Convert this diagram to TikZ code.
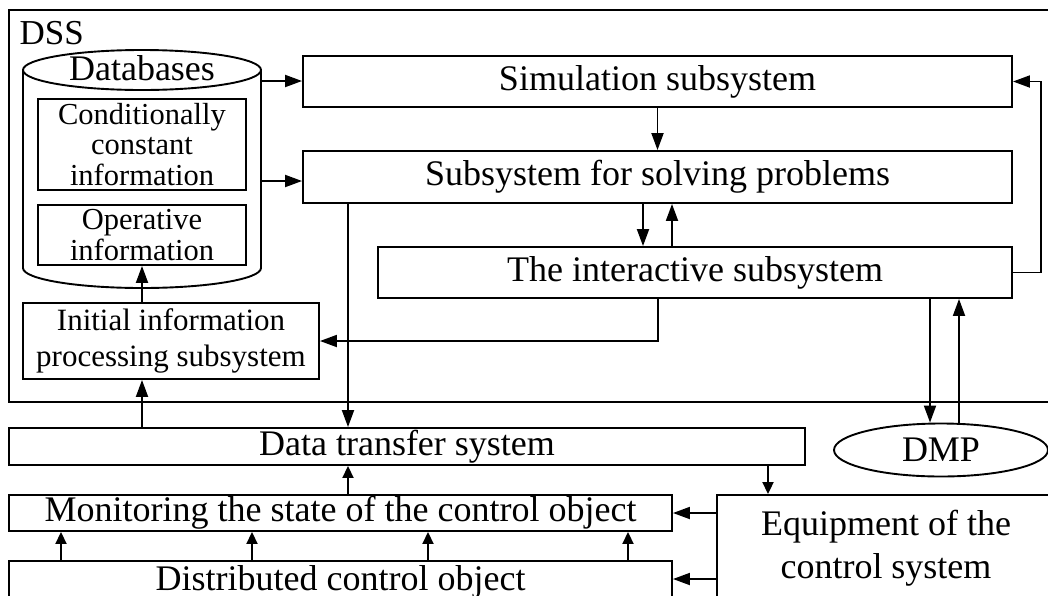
\documentclass[tikz,border=0pt]{standalone}
\usepackage{fontspec}
\setmainfont{Liberation Serif}
\usetikzlibrary{arrows.meta,shapes.geometric}
\tikzset{
  ln/.style={line width=1.9pt},
  blk/.style={draw, ln, inner sep=0pt, align=center, font=\fontsize{36}{43}\selectfont},
  small/.style={font=\fontsize{30.5}{30.5}\selectfont},
  arr/.style={ln, -{Triangle[length=17pt,width=12pt]}},
  sarr/.style={ln, -{Triangle[length=12pt,width=11pt]}},
}

\begin{document}
\begin{tikzpicture}[x=1pt,y=-1pt]
\useasboundingbox (0,0) rectangle (1048,595);
\clip (0,0) rectangle (1048,595);
\fill[white] (0,0) rectangle (1048,595);

% DSS frame
\draw[ln] (9,10) rectangle (1070,402);
\node[anchor=base west, font=\fontsize{35}{40}\selectfont] (dss) at (16,44) {DSS};

% databases cylinder
\draw[ln] (142,70) ellipse [x radius=119, y radius=20];
\draw[ln] (23,70) -- (23,268) arc[start angle=180, end angle=0, x radius=119, y radius=20] -- (261,70);
\node[font=\fontsize{36}{40}\selectfont] (db) at (142,68) {Databases};
\node[blk, small, minimum width=208pt, minimum height=91pt] (cond) at (142,144.5) {Conditionally\\constant\\information};
\node[blk, small, minimum width=208pt, minimum height=60pt] (oper) at (142,235) {Operative\\information};
\coordinate (dbA) at (261,81);
\coordinate (dbB) at (261,181);

% subsystems
\node[blk, minimum width=709pt, minimum height=51pt] (sim) at (657.5,81.5) {Simulation subsystem};
\node[blk, minimum width=709pt, minimum height=52pt] (solve) at (657.5,177) {Subsystem for solving problems};
\node[blk, minimum width=634pt, minimum height=51pt] (inter) at (695,272.5) {The interactive subsystem};
\node[blk, font=\fontsize{31}{36}\selectfont, minimum width=296pt, minimum height=76pt] (init) at (171,341) {Initial information\\processing subsystem};

% outside the DSS
\node[blk, minimum width=796pt, minimum height=37pt] (dts) at (407,446.5) {Data transfer system};
\node[blk, minimum width=663pt, minimum height=36pt] (mon) at (340.5,513) {Monitoring the state of the control object};
\node[blk, minimum width=663pt, minimum height=42pt] (dco) at (340.5,582) {Distributed control object};
\node[blk, minimum width=338pt, minimum height=106pt] (eqp) at (886,548) {Equipment of the\\control system};
\node[draw, ln, ellipse, inner sep=0pt, minimum width=214pt, minimum height=53pt, font=\fontsize{36}{43}\selectfont] (dmp) at (941,450) {DMP};

% links
\draw[arr] (dbA) -- (dbA -| sim.west);
\draw[arr] (dbB) -- (dbB -| solve.west);
\draw[arr] (sim.south) -- (sim.south |- solve.north);
\draw[arr] (643,0 |- solve.south) -- (643,0 |- inter.north);
\draw[arr] (672,0 |- inter.north) -- (672,0 |- solve.south);
\draw[arr] (inter.east) -- (1041,0 |- inter.east) |- (sim.east);
\draw[arr] (658,0 |- inter.south) |- (init.east);
\draw[arr] (348,0 |- solve.south) -- (348,0 |- dts.north);
\draw[arr] (init.north -| oper.south) -- (oper.south);
\draw[arr] (142,0 |- dts.north) -- (142,0 |- init.south);
\draw[arr] (930,0 |- inter.south) -- (930,0 |- dmp.north);
\draw[arr] (959,0 |- dmp.north) -- (959,0 |- inter.south);
\draw[sarr] (768,0 |- dts.south) -- (768,0 |- eqp.north);
\draw[sarr] (348,0 |- mon.north) -- (348,0 |- dts.south);
\foreach \x in {61,252,428,628}
  \draw[sarr] (\x,0 |- dco.north) -- (\x,0 |- mon.south);
\draw[arr] (eqp.west |- mon.east) -- (mon.east);
\draw[arr] (eqp.west |- 0,579) -- (dco.east |- 0,579);
\end{tikzpicture}
\end{document}
